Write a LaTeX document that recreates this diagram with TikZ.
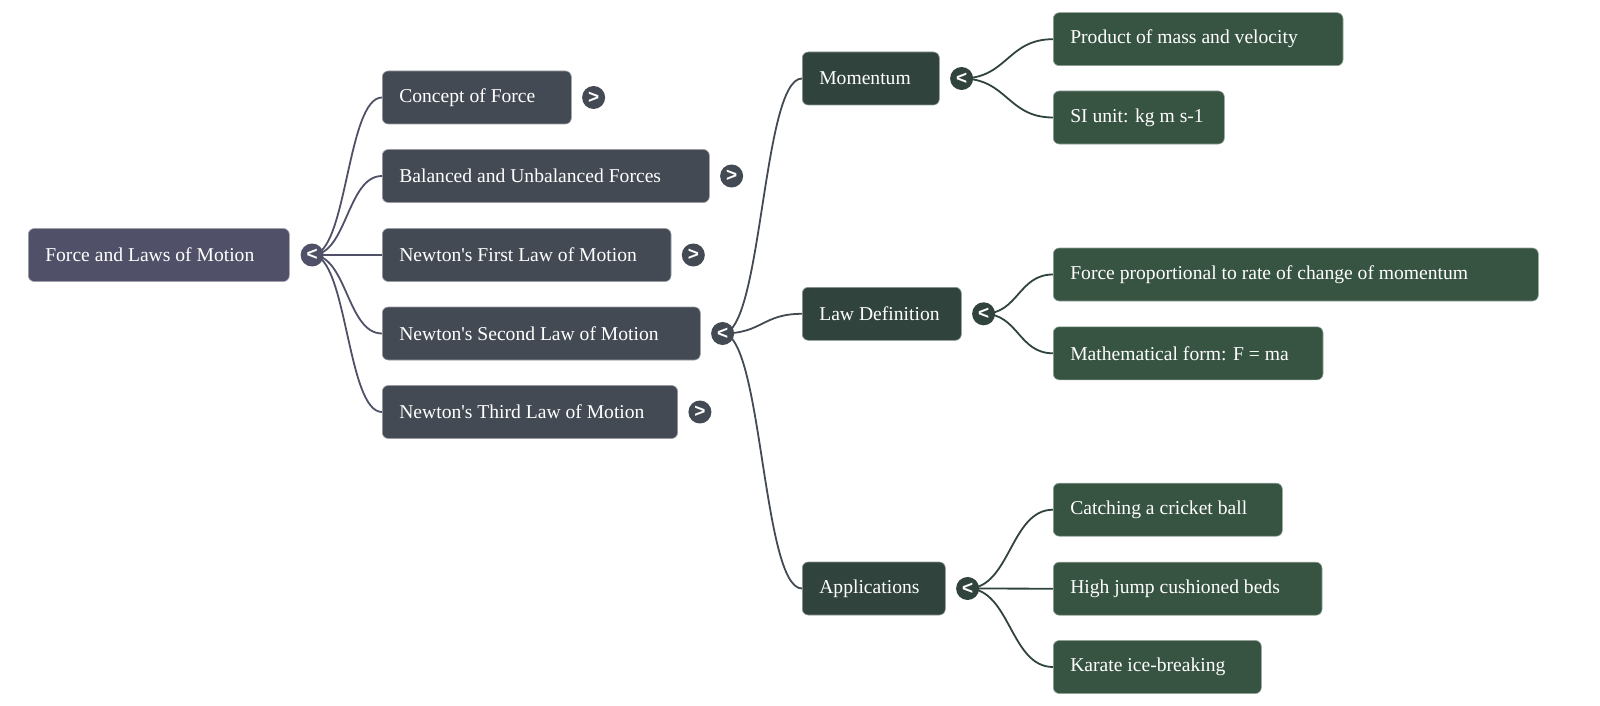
\documentclass[tikz,border=0pt]{standalone}
\usepackage{fontspec}
\setmainfont{Liberation Serif}
\newfontfamily\togglefont{Liberation Sans}
\usetikzlibrary{calc,backgrounds}
\definecolor{rootc}{RGB}{80,81,104}
\definecolor{lonec}{RGB}{67,74,84}
\definecolor{ltwoc}{RGB}{48,67,60}
\definecolor{lthreec}{RGB}{55,83,65}
\newcommand{\boxtext}[2]{\makebox[#1pt][l]{\kern17pt #2}}
\tikzset{
  mbox/.style={anchor=west, rounded corners=6pt, inner xsep=0pt, inner ysep=0pt,
    minimum height=53pt, text=white, draw=white!75!black, line width=0.6pt,
    font=\fontsize{19.6}{23}\selectfont},
  rootbox/.style={mbox, fill=rootc, draw=rootc!55!white},
  onebox/.style={mbox, fill=lonec, draw=lonec!55!white},
  twobox/.style={mbox, fill=ltwoc, draw=ltwoc!55!white},
  threebox/.style={mbox, fill=lthreec, draw=lthreec!55!white},
  toggle/.style={circle, minimum size=23pt, inner sep=0pt, text=white,
    font=\togglefont\bfseries\fontsize{19}{19}\selectfont},
  link/.style={line width=1.8pt,
    to path={let \p1=(\tikztostart), \p2=(\tikztotarget) in
      .. controls ({(\x1+\x2)/2},\y1) and ({(\x1+\x2)/2},\y2) .. (\tikztotarget)}}
}
\begin{document}
\begin{tikzpicture}[x=1pt,y=-1pt]
\useasboundingbox (0,0) rectangle (1600,706);
% root
\node[rootbox] (root) at (28,255) {\boxtext{261}{Force and Laws of Motion}};
\node[toggle, fill=rootc] (rootT) at ([xshift=22.5pt]root.east) {<};
% level 1
\node[onebox] (c1) at (382,97.5) {\boxtext{189}{Concept of Force}};
\node[onebox] (c2) at (382,176) {\boxtext{327}{Balanced and Unbalanced Forces}};
\node[onebox] (c3) at (382,255) {\boxtext{288.7}{Newton\textquotesingle s First Law of Motion}};
\node[onebox] (c4) at (382,333.5) {\boxtext{318}{Newton\textquotesingle s Second Law of Motion}};
\node[onebox] (c5) at (382,412) {\boxtext{295.3}{Newton\textquotesingle s Third Law of Motion}};
\node[toggle, fill=lonec] (c1T) at ([xshift=22pt]c1.east) {>};
\node[toggle, fill=lonec] (c2T) at ([xshift=22pt]c2.east) {>};
\node[toggle, fill=lonec] (c3T) at ([xshift=22pt]c3.east) {>};
\node[toggle, fill=lonec] (c4T) at ([xshift=22pt]c4.east) {<};
\node[toggle, fill=lonec] (c5T) at ([xshift=22pt]c5.east) {>};
% level 2
\node[twobox] (m) at (802,78.5) {\boxtext{137}{Momentum}};
\node[twobox] (ld) at (802,313.8) {\boxtext{159}{Law Definition}};
\node[twobox] (ap) at (802,588.5) {\boxtext{143}{Applications}};
\node[toggle, fill=ltwoc] (mT) at ([xshift=22pt]m.east) {<};
\node[toggle, fill=ltwoc] (ldT) at ([xshift=22pt]ld.east) {<};
\node[toggle, fill=ltwoc] (apT) at ([xshift=22pt]ap.east) {<};
% level 3
\node[threebox] (m1) at (1053,39.2) {\boxtext{289.7}{Product of mass and velocity}};
\node[threebox] (m2) at (1053,117.5) {\boxtext{171}{SI unit: kg m s-1}};
\node[threebox] (l1) at (1053,274.5) {\boxtext{485}{Force proportional to rate of change of momentum}};
\node[threebox] (l2) at (1053,353.3) {\boxtext{269.7}{Mathematical form: F = ma}};
\node[threebox] (a1) at (1053,509.7) {\boxtext{229}{Catching a cricket ball}};
\node[threebox] (a2) at (1053,588.7) {\boxtext{268.7}{High jump cushioned beds}};
\node[threebox] (a3) at (1053,667) {\boxtext{208}{Karate ice-breaking}};
\begin{scope}[on background layer]
\fill[white] (0,0) rectangle (1600,706);
\foreach \c in {c1,c2,c3,c4,c5}
  \draw[link, rootc] (rootT.center) to (\c.west);
\foreach \c in {m,ld,ap}
  \draw[link, lonec] (c4T.center) to (\c.west);
\foreach \c in {m1,m2}
  \draw[link, ltwoc] (mT.center) to (\c.west);
\foreach \c in {l1,l2}
  \draw[link, ltwoc] (ldT.center) to (\c.west);
\foreach \c in {a1,a2,a3}
  \draw[link, ltwoc] (apT.center) to (\c.west);
\end{scope}
\end{tikzpicture}
\end{document}
